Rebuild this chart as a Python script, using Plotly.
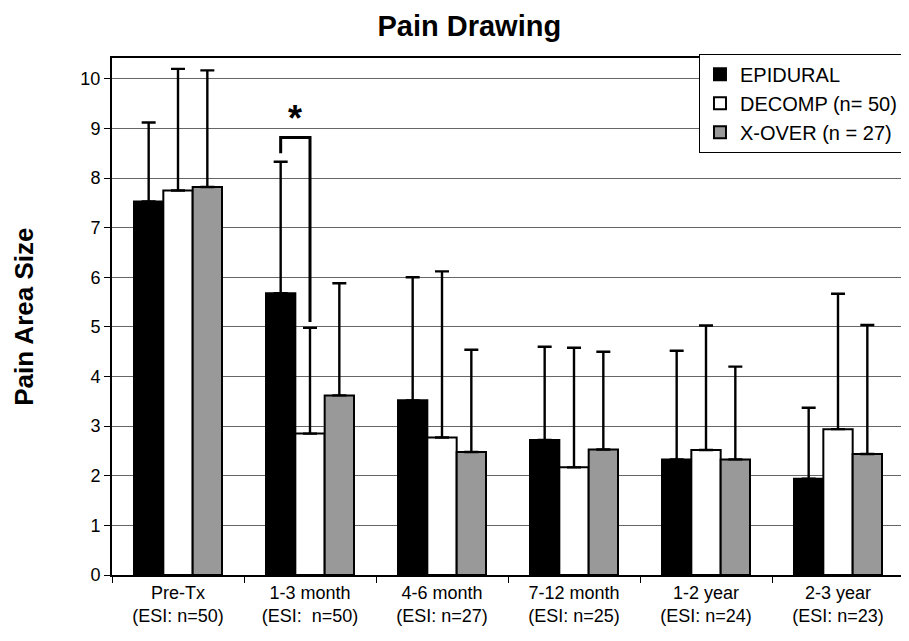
import plotly.graph_objects as go

categories = ["Pre-Tx<br>(ESI: n=50)", "1-3 month<br>(ESI:  n=50)", "4-6 month<br>(ESI: n=27)",
              "7-12 month<br>(ESI: n=25)", "1-2 year<br>(ESI: n=24)", "2-3 year<br>(ESI: n=23)"]
series_names = ["EPIDURAL", "DECOMP (n= 50)", "X-OVER (n = 27)"]
epidural = [7.53, 5.68, 3.52, 2.72, 2.33, 1.94]
epidural_err = [1.59, 2.65, 2.48, 1.88, 2.19, 1.43]
decomp = [7.75, 2.85, 2.77, 2.17, 2.52, 2.94]
decomp_err = [2.45, 2.13, 3.35, 2.41, 2.51, 2.73]
xover = [7.82, 3.62, 2.48, 2.53, 2.33, 2.44]
xover_err = [2.35, 2.26, 2.06, 1.97, 1.87, 2.60]
colors = ["#000000", "#ffffff", "#999999"]

# significance bracket (1-3 month: EPIDURAL vs DECOMP)
bracket_top = 8.82
bracket_left_bottom = 8.5
bracket_right_bottom = 5.1
star_y = 9.2

fig = go.Figure()
for name, vals, errs, col in zip(series_names, [epidural, decomp, xover],
                                 [epidural_err, decomp_err, xover_err], colors):
    fig.add_trace(go.Bar(
        x=categories, y=vals, name=name,
        marker=dict(color=col, line=dict(color="black", width=2)),
        error_y=dict(type="data", array=errs, arrayminus=[0]*len(errs), symmetric=False,
                     color="black", thickness=2.4, width=7),
    ))

bar_w = (1 - 1/3) / 3
xl = 1 - bar_w
xr = 1.0
fig.add_shape(type="path",
              path=f"M {xl} {bracket_left_bottom} L {xl} {bracket_top} L {xr} {bracket_top} L {xr} {bracket_right_bottom}",
              xref="x", yref="y", line=dict(color="black", width=3))
fig.add_annotation(x=(xl + xr) / 2, y=star_y, xref="x", yref="y", text="<b>*</b>",
                   showarrow=False, font=dict(size=36, color="black"), yanchor="middle")

# y-axis title as annotation
fig.add_annotation(x=-0.112, y=0.5, xref="paper", yref="paper", text="<b>Pain Area Size</b>",
                   textangle=-90, showarrow=False, xanchor="center", yanchor="middle",
                   font=dict(size=26, color="black"))

fig.update_layout(
    width=901, height=633,
    paper_bgcolor="white", plot_bgcolor="white",
    margin=dict(l=104, r=5, t=50, b=66),
    barmode="group", bargap=1/3, bargroupgap=0,
    font=dict(family="Liberation Sans, Arial, sans-serif", color="black"),
    title=dict(text="<b>Pain Drawing</b>", x=0.512, xanchor="center", y=0.972, yanchor="middle",
               font=dict(size=29, color="black")),
    legend=dict(x=0.9987, xanchor="right", y=1.008, yanchor="top",
                bordercolor="black", borderwidth=1, bgcolor="white",
                font=dict(size=20, color="black"), tracegroupgap=0, itemsizing="constant",
                itemwidth=30),
    showlegend=True,
)
fig.update_xaxes(showline=True, linecolor="black", linewidth=2, mirror=True, automargin=False,
                 ticks="outside", tickson="boundaries", ticklen=6, tickcolor="black",
                 tickfont=dict(size=18), showgrid=False)
fig.update_yaxes(range=[0, 10.42], dtick=1, showline=True, linecolor="black", linewidth=2, mirror=True,
                 automargin=False,
                 ticks="outside", ticklen=6, tickcolor="black", tickfont=dict(size=18),
                 showgrid=True, gridcolor="#666666", gridwidth=1, zeroline=False)

fig.write_html("out.html")
